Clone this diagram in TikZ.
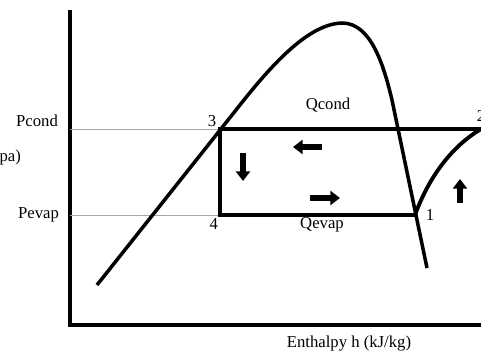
\documentclass[tikz,border=0pt]{standalone}
\usepackage{fontspec}
\setmainfont{Liberation Serif}
\usetikzlibrary{arrows.meta, positioning}

\begin{document}
\begin{tikzpicture}[x=0.02cm, y=-0.02cm, font=\fontsize{9.5}{11}\selectfont, >=Stealth,
    cycleline/.style={line width=2.2pt, line join=miter},
    guide/.style={gray!70, line width=0.5pt},
    axisline/.style={line width=2pt},
    flow/.style={line width=3pt, -{Triangle[length=5.5pt, width=8pt]}},
    lbl/.style={inner sep=1pt}]
    \useasboundingbox (0,0) rectangle (481,358);
    % axes
    \coordinate (ytop) at (70,10);
    \coordinate (orig) at (70,325);
    \coordinate (xend) at (481,325);
    \draw[axisline] (ytop) -- (orig) -- (xend);
    % cycle points
    \coordinate (p1) at (415,215);
    \coordinate (p2) at (481,129);
    \coordinate (p3) at (220,129);
    \coordinate (p4) at (220,215);
    \coordinate (gc) at (70,129);
    \coordinate (ge) at (70,215);
    \draw[guide] (gc) -- (p3);
    \draw[guide] (ge) -- (p4);
    % saturation dome
    \draw[line width=2pt] (97,285) -- (236,110)
        .. controls (275,60) and (310,24) .. (342,23)
        .. controls (370,23) and (383,62) .. (392,100) -- (427,268);
    % cycle
    \draw[cycleline] (p2) -- (p3) -- (p4) -- (p1);
    \draw[cycleline] (p1) .. controls (426,185) and (446,150) .. (p2);
    % flow direction
    \draw[flow] (322,147) -- (293,147);
    \draw[flow] (243,153) -- (243,181);
    \draw[flow] (310,198) -- (340,198);
    \draw[flow] (460,203) -- (460,179);
    % labels
    \node[lbl] (qcond) at (328,105) {Qcond};
    \node[lbl] (qevap) at (322,225) {Qevap};
    \node[lbl, above left=0pt and 1pt of p3] (n3) {3};
    \node[lbl, below left=1pt and 0pt of p4] (n4) {4};
    \node[lbl, right=5pt of p1] (n1) {1};
    \node[lbl, above=3pt of p2] (n2) {2};
    \node[lbl, anchor=east] (pcond) at (60,121) {Pcond};
    \node[lbl, anchor=east] (pevap) at (61,215) {Pevap};
    \node[lbl, anchor=east] (punit) at (23,157) {(pa)};
    \node[lbl] (hlabel) at (349,344) {Enthalpy h (kJ/kg)};
\end{tikzpicture}
\end{document}
